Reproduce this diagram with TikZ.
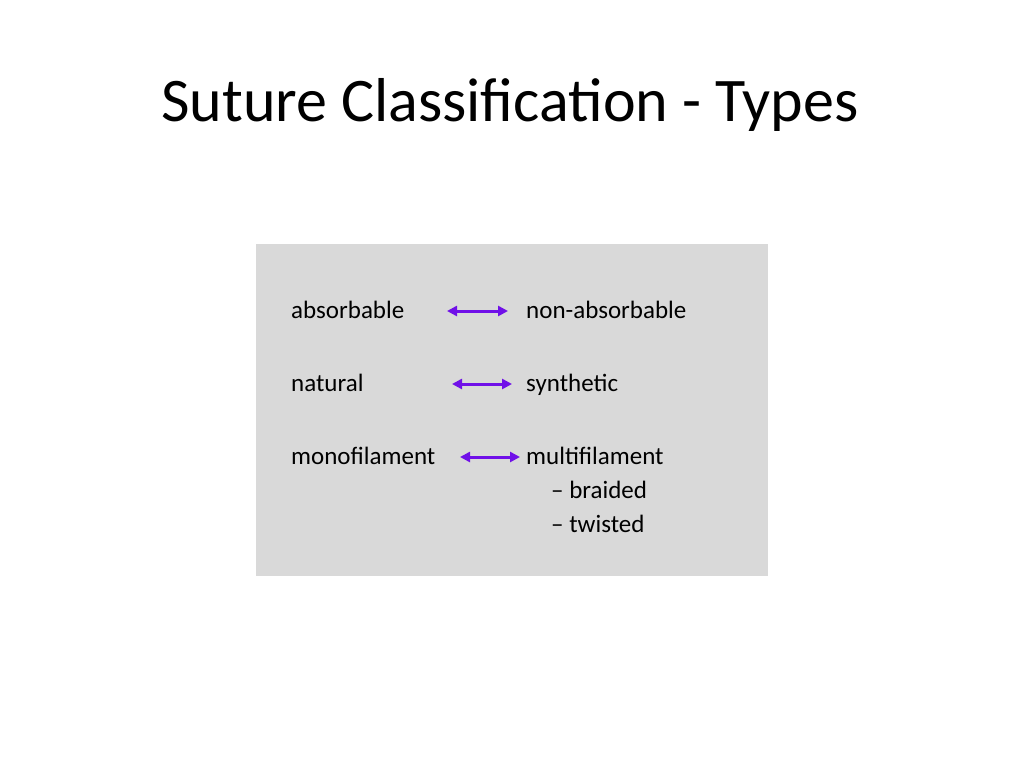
\documentclass[tikz,border=0pt]{standalone}
\usepackage{fontspec}
\setmainfont{Carlito}
\usetikzlibrary{arrows.meta}
\usepackage{xcolor}
\definecolor{panelgray}{RGB}{217,217,217}
\definecolor{arrowviolet}{RGB}{112,16,232}

\begin{document}
\begin{tikzpicture}[x=1pt, y=-1pt,
  word/.style={anchor=base west, inner sep=0, text=black, font=\fontsize{25}{30}\selectfont},
  pair/.style={arrowviolet, line width=3pt, {Triangle[length=10pt,width=10pt]}-{Triangle[length=10pt,width=10pt]}}]
\useasboundingbox[fill=white] (0,0) rectangle (1024,768);
\node[anchor=base, inner sep=0, font=\fontsize{62}{70}\selectfont] (title) at (510,121) {Suture Classification - Types};
\fill[panelgray] (256,244) rectangle (768,576);
% left and right columns
\node[word] (absorb) at (291,318) {absorbable};
\node[word] (nonabsorb) at (526,318) {non-absorbable};
\node[word] (natural) at (291,391) {natural};
\node[word] (synth) at (526,391) {synthetic};
\node[word] (mono) at (291,464) {monofilament};
\node[word] (multi) at (526,464) {multifilament};
\node[word] (braided) at (551,498) {-- braided};
\node[word] (twisted) at (551,532) {-- twisted};
% arrow ends
\coordinate (a1l) at (447,311); \coordinate (a1r) at (508,311);
\coordinate (a2l) at (452,384); \coordinate (a2r) at (512,384);
\coordinate (a3l) at (460,457); \coordinate (a3r) at (520,457);
\foreach \i in {1,2,3} {
 \draw[pair] (a\i l) -- (a\i r);
}
\end{tikzpicture}
\end{document}
